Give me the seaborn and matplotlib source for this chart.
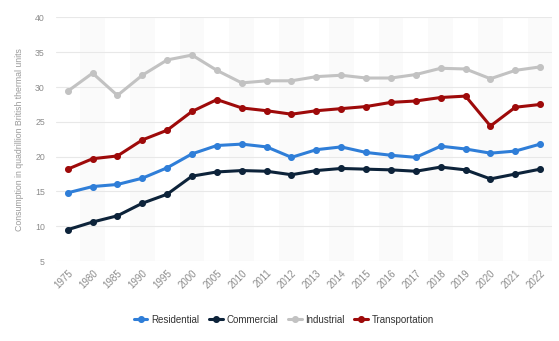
import matplotlib
matplotlib.use("Agg")
import matplotlib.pyplot as plt
import seaborn as sns
import pandas as pd

years = ["1975", "1980", "1985", "1990", "1995", "2000", "2005", "2010", "2011", "2012",
         "2013", "2014", "2015", "2016", "2017", "2018", "2019", "2020", "2021", "2022"]
residential = [14.8, 15.7, 16.0, 16.9, 18.4, 20.4, 21.6, 21.8, 21.4, 19.9,
               21.0, 21.4, 20.6, 20.2, 19.9, 21.5, 21.1, 20.5, 20.8, 21.8]
commercial = [9.5, 10.6, 11.5, 13.3, 14.6, 17.2, 17.8, 18.0, 17.9, 17.4,
              18.0, 18.3, 18.2, 18.1, 17.9, 18.5, 18.1, 16.8, 17.5, 18.2]
industrial = [29.4, 32.0, 28.8, 31.7, 33.9, 34.6, 32.4, 30.6, 30.9, 30.9,
              31.5, 31.7, 31.3, 31.3, 31.8, 32.7, 32.6, 31.2, 32.4, 32.9]
transportation = [18.2, 19.7, 20.1, 22.4, 23.8, 26.5, 28.2, 27.0, 26.6, 26.1,
                  26.6, 26.9, 27.2, 27.8, 28.0, 28.5, 28.7, 24.4, 27.1, 27.5]

series_names = ["Residential", "Commercial", "Industrial", "Transportation"]
series_colors = ["#2f7ed8", "#0d233a", "#c2c2c2", "#9e0a0a"]

df = pd.DataFrame({
    "year": years * 4,
    "value": residential + commercial + industrial + transportation,
    "sector": sum([[name] * len(years) for name in series_names], []),
})

sns.set_style("white")
plt.rcParams["font.family"] = ["Liberation Sans", "DejaVu Sans"]

fig = plt.figure(figsize=(5.59, 3.41), dpi=100)
ax = fig.add_axes([0.1002, 0.2346, 0.887, 0.7141])

# alternating column shading
for i in range(len(years)):
    if i % 2 == 1:
        ax.axvspan(i - 0.5, i + 0.5, color="#fafafa", zorder=0, lw=0)

sns.pointplot(data=df, x="year", y="value", hue="sector", order=years,
              hue_order=series_names, palette=series_colors, errorbar=None,
              markers="o", linestyles="-", linewidth=2.2, markersize=3.4,
              ax=ax, zorder=3)

ax.set_ylim(5, 40)
ax.set_xlim(-0.47, len(years) - 0.53)
ax.set_yticks([5, 10, 15, 20, 25, 30, 35, 40])
ax.yaxis.grid(True, color="#e8e8e8", linewidth=0.8, zorder=1)
ax.set_axisbelow(True)
for s in ax.spines.values():
    s.set_visible(False)

ax.tick_params(axis="y", length=0, pad=8, labelsize=6.3, labelcolor="#8c8c8c")
ax.tick_params(axis="x", length=0, pad=5, labelsize=7, labelcolor="#8c8c8c")
for lbl in ax.get_xticklabels():
    lbl.set_rotation(45)
    lbl.set_ha("right")
    lbl.set_rotation_mode("anchor")

ax.set_xlabel("")
ax.set_ylabel("Consumption in quadrillion British thermal units",
              fontsize=6.3, color="#9a9a9a", labelpad=8)

handles, labels = ax.get_legend_handles_labels()
ax.get_legend().remove()
fig.legend(handles, labels, loc="center", bbox_to_anchor=(0.508, 0.062),
           ncol=4, frameon=False, fontsize=7, handlelength=1.4,
           handletextpad=0.4, columnspacing=1.0, labelcolor="#333333")

fig.savefig("out.png", dpi=100)
